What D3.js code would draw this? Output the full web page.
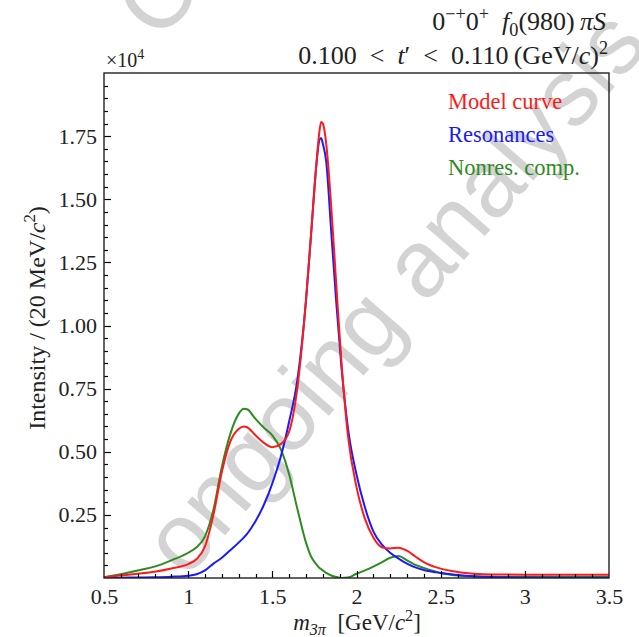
<!DOCTYPE html>
<html>
<head>
<meta charset="utf-8">
<script src="https://cdn.jsdelivr.net/npm/d3@7"></script>
<style>
  body { margin: 0; background: #fff; }
  svg text { font-family: "Liberation Serif", "DejaVu Serif", serif; }
</style>
</head>
<body>
<div id="chart"></div>
<script>
// datos (intensidad en unidades de 10^4)
var masses = [0.5, 0.6, 0.7, 0.8, 0.9, 1.0, 1.05, 1.1, 1.15, 1.2, 1.25, 1.3, 1.33, 1.35, 1.4, 1.45, 1.5, 1.55, 1.6, 1.65,
  1.7, 1.73, 1.76, 1.78, 1.79, 1.8, 1.82, 1.85, 1.88, 1.91, 1.95, 2.0, 2.05, 2.1, 2.15, 2.2, 2.25, 2.3, 2.35, 2.4,
  2.5, 2.6, 2.7, 2.8, 3.0, 3.2, 3.5];

var modelCurve = [0.003, 0.01, 0.017, 0.025, 0.038, 0.055, 0.075, 0.125, 0.25, 0.42, 0.54, 0.59, 0.6, 0.597, 0.565, 0.535, 0.518, 0.53, 0.58, 0.76,
  1.1, 1.36, 1.625, 1.77, 1.806, 1.8, 1.72, 1.47, 1.16, 0.86, 0.56, 0.36, 0.235, 0.16, 0.122, 0.117, 0.12, 0.108, 0.085, 0.063,
  0.037, 0.024, 0.017, 0.014, 0.013, 0.013, 0.013];

var resonances = [0.0, 0.001, 0.002, 0.003, 0.005, 0.009, 0.015, 0.03, 0.057, 0.08, 0.11, 0.14, 0.16, 0.175, 0.225, 0.29, 0.375, 0.48, 0.62, 0.79,
  1.1, 1.36, 1.625, 1.735, 1.743, 1.72, 1.65, 1.37, 1.09, 0.84, 0.59, 0.41, 0.28, 0.185, 0.133, 0.1, 0.077, 0.057, 0.042, 0.032,
  0.02, 0.012, 0.007, 0.004, 0.002, 0.001, 0.001];

var nonResonant = [0.003, 0.015, 0.03, 0.045, 0.07, 0.1, 0.122, 0.165, 0.27, 0.44, 0.57, 0.65, 0.67, 0.668, 0.63, 0.595, 0.565, 0.51, 0.41, 0.27,
  0.14, 0.085, 0.055, 0.04, 0.035, 0.03, 0.02, 0.01, 0.004, 0.0, 0.002, 0.017, 0.03, 0.045, 0.062, 0.08, 0.087, 0.07, 0.052, 0.04,
  0.02, 0.01, 0.006, 0.005, 0.004, 0.004, 0.004];

var seriesNames = ["Model curve", "Resonances", "Nonres. comp."];
var seriesColors = ["#ff1a1a", "#1a1aff", "#2e8b22"];

var xTicks = [0.5, 1, 1.5, 2, 2.5, 3, 3.5];
var xTickLabels = ["0.5", "1", "1.5", "2", "2.5", "3", "3.5"];
var yTicks = [0.25, 0.5, 0.75, 1.0, 1.25, 1.5, 1.75];
var yTickLabels = ["0.25", "0.50", "0.75", "1.00", "1.25", "1.50", "1.75"];

var width = 639, height = 637;
var plotLeft = 104, plotRight = 609, plotTop = 73, plotBottom = 578;

var svg = d3.select("#chart").append("svg")
  .attr("width", width)
  .attr("height", height);

var x = d3.scaleLinear().domain([0.5, 3.5]).range([plotLeft, plotRight]);
var y = d3.scaleLinear().domain([0, 2.0]).range([plotBottom, plotTop]);

// marca de agua
var wm = svg.append("g").attr("fill", "#d3d3d3")
  .style("font-size", "95px");
wm.append("text")
  .attr("transform", "translate(186,580) rotate(-49)")
  .style("font-family", "'Liberation Sans', Arial, sans-serif")
  .text("ongoing analysis");
wm.append("text")
  .attr("transform", "translate(159,43) rotate(-49)")
  .style("font-family", "'Liberation Sans', Arial, sans-serif")
  .text("COMPASS");

// ayuda para texto con indices (desplazamientos en px)
function richText(sel, parts, size) {
  sel.style("font-size", size + "px");
  var shift = 0;
  parts.forEach(function(p) {
    var t = sel.append("tspan").text(p.t);
    var target = 0;
    if (p.s === "sup") target = -0.4 * size;
    if (p.s === "sub") target = 0.22 * size;
    if (target !== shift) { t.attr("dy", target - shift); shift = target; }
    if (p.s === "sup" || p.s === "sub") t.style("font-size", (0.7 * size) + "px");
    if (p.i) t.style("font-style", "italic");
  });
  return sel;
}

// curvas
svg.append("clipPath").attr("id", "clip").append("rect")
  .attr("x", plotLeft).attr("y", plotTop)
  .attr("width", plotRight - plotLeft).attr("height", plotBottom - plotTop);

var series = [modelCurve, resonances, nonResonant];
var line = d3.line()
  .x(function(d) { return x(d[0]); })
  .y(function(d) { return y(d[1]); })
  .curve(d3.curveMonotoneX);

// orden de dibujo: verde, azul, rojo
[2, 1, 0].forEach(function(k) {
  svg.append("path")
    .datum(masses.map(function(m, i) { return [m, series[k][i]]; }))
    .attr("clip-path", "url(#clip)")
    .attr("d", line)
    .attr("fill", "none")
    .attr("stroke", seriesColors[k])
    .attr("stroke-width", 2);
});

// marcas de los ejes, hacia dentro
var xMinorVals = d3.range(6, 35).map(function(d) { return d / 10; });
var yMinorVals = d3.range(1, 40).map(function(d) { return d / 20; });
var ticks = svg.append("g").attr("stroke", "#000").attr("stroke-width", 1.2);

ticks.selectAll(".xt").data(xMinorVals).enter().append("line")
  .attr("x1", function(d) { return Math.round(x(d)) + 0.5; })
  .attr("x2", function(d) { return Math.round(x(d)) + 0.5; })
  .attr("y1", plotBottom)
  .attr("y2", function(d) { return plotBottom - (xTicks.indexOf(d) >= 0 ? 7 : 4); });

ticks.selectAll(".yt").data(yMinorVals).enter().append("line")
  .attr("y1", function(d) { return Math.round(y(d)) + 0.5; })
  .attr("y2", function(d) { return Math.round(y(d)) + 0.5; })
  .attr("x1", plotLeft)
  .attr("x2", function(d) { return plotLeft + (d % 0.25 < 1e-6 || 0.25 - d % 0.25 < 1e-6 ? 7 : 4); });

// etiquetas de los ejes
var xAxis = d3.axisBottom(x).tickValues(xTicks)
  .tickFormat(function(d, i) { return xTickLabels[i]; })
  .tickSize(0).tickPadding(10);
var yAxis = d3.axisLeft(y).tickValues(yTicks)
  .tickFormat(function(d, i) { return yTickLabels[i]; })
  .tickSize(0).tickPadding(7);

var gx = svg.append("g").attr("transform", "translate(0," + plotBottom + ")").call(xAxis);
var gy = svg.append("g").attr("transform", "translate(" + plotLeft + ",0)").call(yAxis);
[gx, gy].forEach(function(g) {
  g.select(".domain").remove();
  g.selectAll("text").style("font-size", "22px").attr("fill", "#222")
    .style("font-family", "'Liberation Serif', serif");
});

// marco
svg.append("rect")
  .attr("x", plotLeft).attr("y", plotTop)
  .attr("width", plotRight - plotLeft).attr("height", plotBottom - plotTop)
  .attr("fill", "none").attr("stroke", "#222").attr("stroke-width", 1.4);

// leyenda
svg.selectAll(".legend")
  .data(seriesNames)
  .enter()
  .append("text")
  .attr("class", "legend")
  .attr("x", 448)
  .attr("y", function(d, i) { return 109 + i * 33; })
  .attr("fill", function(d, i) { return seriesColors[i]; })
  .style("font-size", "22.5px")
  .text(function(d) { return d; });

// titulos
var t1 = svg.append("text").attr("x", 606).attr("y", 30).attr("text-anchor", "end").attr("fill", "#222");
richText(t1, [{t: "0"}, {t: "\u2212+", s: "sup"}, {t: "0"}, {t: "+", s: "sup"}, {t: "\u2002f", i: true},
  {t: "0", s: "sub"}, {t: "(980)\u2009"}, {t: "\u03c0S", i: true}], 26);

var t2 = svg.append("text").attr("x", 608).attr("y", 64).attr("text-anchor", "end").attr("fill", "#222");
richText(t2, [{t: "0.100\u2002<\u2002"}, {t: "t", i: true}, {t: "\u2032\u2002<\u20020.110\u2009(GeV/"}, {t: "c", i: true},
  {t: ")"}, {t: "2", s: "sup"}], 26);

var off = svg.append("text").attr("x", 106).attr("y", 67).attr("fill", "#222");
richText(off, [{t: "\u00d710"}, {t: "4", s: "sup"}], 20);

var xl = svg.append("text").attr("x", 357).attr("y", 630).attr("text-anchor", "middle").attr("fill", "#222");
richText(xl, [{t: "m", i: true}, {t: "3\u03c0", s: "sub", i: true}, {t: "\u2002[GeV/"}, {t: "c", i: true},
  {t: "2", s: "sup"}, {t: "]"}], 23);

var yl = svg.append("text").attr("transform", "translate(45,318) rotate(-90)")
  .attr("text-anchor", "middle").attr("fill", "#222");
richText(yl, [{t: "Intensity / (20 MeV/"}, {t: "c", i: true}, {t: "2", s: "sup"}, {t: ")"}], 24);
</script>
</body>
</html>
